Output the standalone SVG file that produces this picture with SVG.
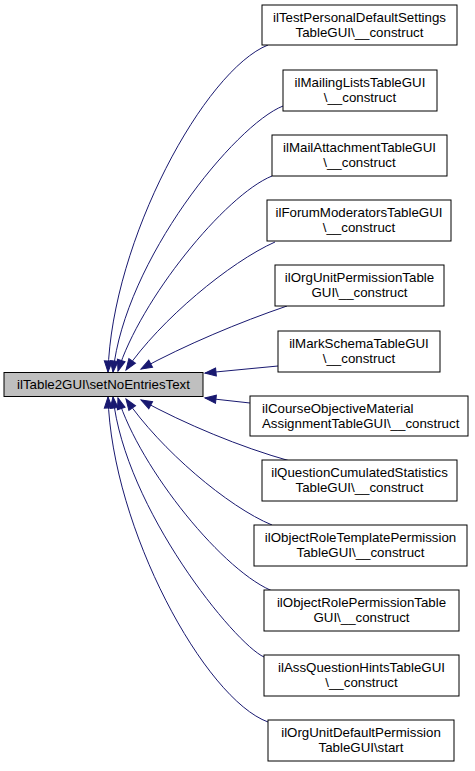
<svg xmlns="http://www.w3.org/2000/svg" width="475" height="771" viewBox="0 0 475 771">
<style>
.n rect{fill:#ffffff;stroke:#000000;stroke-width:1}
.n text{font-family:"Liberation Sans",Arial,sans-serif;font-size:13.3px;fill:#000000;text-anchor:middle}
#root rect{fill:#bfbfbf}
.e path{fill:none;stroke:#191970;stroke-width:1;marker-end:url(#ah)}
</style>
<defs>
<marker id="ah" markerUnits="userSpaceOnUse" markerWidth="14" markerHeight="12" refX="11" refY="4" orient="auto" overflow="visible">
<path d="M0,0 L11,4 L0,8 z" fill="#191970" stroke="#191970" stroke-width="1"/>
</marker>
</defs>
<rect width="475" height="771" fill="#ffffff"/>
<g class="e" id="edges">
<path d="M268,45 C205,70 112,240 108,372"/>
<path d="M283,106 C235,125 125,260 113,372"/>
<path d="M272,176 C225,195 140,300 118,371"/>
<path d="M275,242 C230,262 160,320 126,370"/>
<path d="M287,306 C240,322 185,345 141,369"/>
<path d="M278,366 L205,373"/>
<path d="M250,403 L205,398"/>
<path d="M290,461 C240,447 185,424 141,400"/>
<path d="M272,525 C228,507 160,449 126,399"/>
<path d="M275,592 C225,574 140,469 118,398"/>
<path d="M264,657 C235,644 125,509 113,397"/>
<path d="M268,722 C205,699 112,529 108,397"/>
</g>
<g class="n" id="root"><rect x="4" y="372.5" width="199" height="24"/><text x="103.5" y="389">ilTable2GUI\setNoEntriesText</text></g>
<g class="n" id="n1"><rect x="262" y="5" width="195" height="40"/><text x="359.5" y="22">ilTestPersonalDefaultSettings</text><text x="359.5" y="37">TableGUI\__construct</text></g>
<g class="n" id="n2"><rect x="283" y="70" width="154" height="41"/><text x="360" y="87">ilMailingListsTableGUI</text><text x="360" y="102">\__construct</text></g>
<g class="n" id="n3"><rect x="272" y="135" width="175" height="41"/><text x="359.5" y="152">ilMailAttachmentTableGUI</text><text x="359.5" y="167">\__construct</text></g>
<g class="n" id="n4"><rect x="267" y="200" width="184" height="41"/><text x="359" y="217">ilForumModeratorsTableGUI</text><text x="359" y="232">\__construct</text></g>
<g class="n" id="n5"><rect x="275" y="265" width="169" height="41"/><text x="359.5" y="282">ilOrgUnitPermissionTable</text><text x="359.5" y="297">GUI\__construct</text></g>
<g class="n" id="n6"><rect x="278" y="331" width="162" height="41"/><text x="359" y="348">ilMarkSchemaTableGUI</text><text x="359" y="363">\__construct</text></g>
<g class="n" id="n7"><rect x="250" y="396" width="218" height="40"/><text x="262" y="413" style="text-anchor:start">ilCourseObjectiveMaterial</text><text x="262" y="428" style="text-anchor:start">AssignmentTableGUI\__construct</text></g>
<g class="n" id="n8"><rect x="262" y="460" width="195" height="41"/><text x="359.5" y="477">ilQuestionCumulatedStatistics</text><text x="359.5" y="492">TableGUI\__construct</text></g>
<g class="n" id="n9"><rect x="254" y="525" width="213" height="41"/><text x="360.5" y="542">ilObjectRoleTemplatePermission</text><text x="360.5" y="557">TableGUI\__construct</text></g>
<g class="n" id="n10"><rect x="264" y="590" width="195" height="41"/><text x="361.5" y="607">ilObjectRolePermissionTable</text><text x="361.5" y="622">GUI\__construct</text></g>
<g class="n" id="n11"><rect x="264" y="655" width="195" height="41"/><text x="361.5" y="672">ilAssQuestionHintsTableGUI</text><text x="361.5" y="687">\__construct</text></g>
<g class="n" id="n12"><rect x="268" y="720" width="186" height="41"/><text x="361" y="737">ilOrgUnitDefaultPermission</text><text x="361" y="752">TableGUI\start</text></g>
</svg>
